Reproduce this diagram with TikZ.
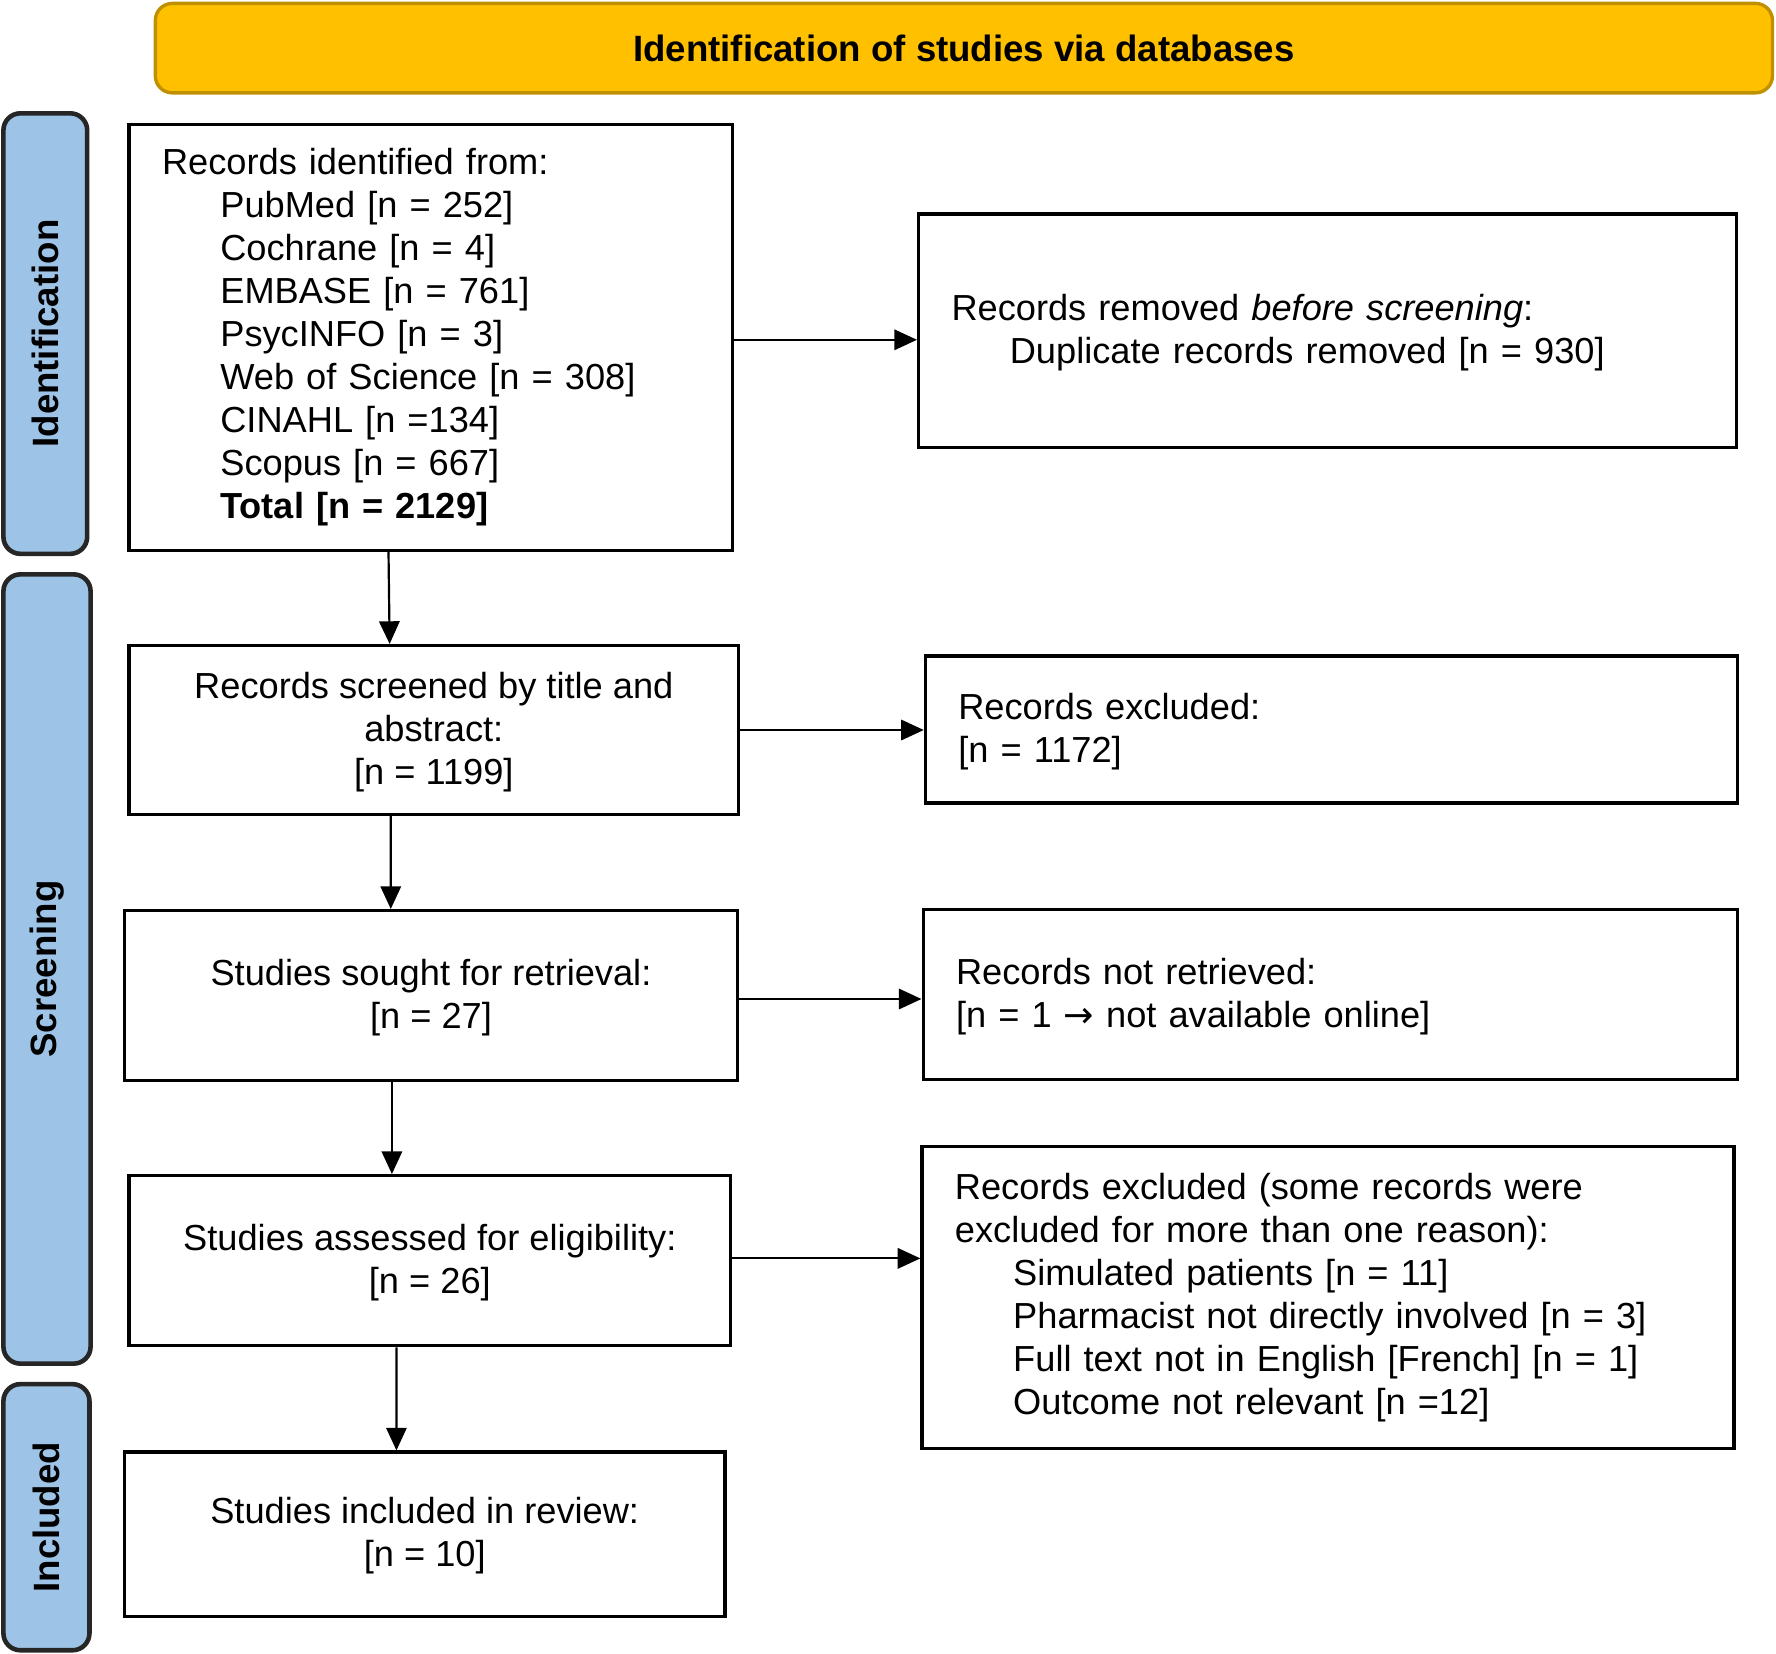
\documentclass[tikz,border=0pt]{standalone}
\usepackage{fontspec}
\setmainfont{Liberation Sans}
\newfontfamily\arrowfont{DejaVu Sans}
\usetikzlibrary{arrows.meta}
\definecolor{headyellow}{HTML}{FFC000}
\definecolor{headborder}{HTML}{BF9000}
\definecolor{phaseblue}{HTML}{9DC3E6}
\newcommand{\ind}{\hspace*{1.03cm}}

\begin{document}
\begin{tikzpicture}[x=0.02cm,y=-0.02cm,
  font=\fontsize{18.2pt}{21.6pt}\selectfont,
  box/.style={draw,line width=1.7pt,inner xsep=0.58cm,inner ysep=0pt},
  lbox/.style={box,align=left},
  cbox/.style={box,align=center},
  header/.style={draw=headborder,fill=headyellow,line width=1.7pt,rounded corners=0.3cm,font=\fontsize{18.4pt}{21.6pt}\selectfont\bfseries},
  phase/.style={draw=black!85,fill=phaseblue,line width=2.3pt,rounded corners=0.3cm,rotate=90,font=\fontsize{18.4pt}{21.6pt}\selectfont\bfseries},
  arr/.style={-{Triangle[length=0.4cm,width=0.36cm]},line width=1.1pt}]

 \useasboundingbox (0,0) rectangle (1568,1460);

 % header and phases
 \node[header,minimum width=28.56cm,minimum height=1.58cm] (head) at (851,42.5) {Identification of studies via databases};
 \node[phase,minimum width=7.78cm,minimum height=1.48cm] (pident) at (40,294.5) {Identification};
 \node[phase,minimum width=13.94cm,minimum height=1.54cm] (pscreen) at (41.5,855.5) {Screening};
 \node[phase,minimum width=4.7cm,minimum height=1.52cm] (pinc) at (41,1339.5) {Included};

 % left column
 \node[lbox,text width=9.5cm,minimum height=7.52cm] (ident) at (380.5,298) {Records identified from:\\
   \ind PubMed [n = 252]\\
   \ind Cochrane [n = 4]\\
   \ind EMBASE [n = 761]\\
   \ind PsycINFO [n = 3]\\
   \ind Web of Science [n = 308]\\
   \ind CINAHL [n =134]\\
   \ind Scopus [n = 667]\\
   \ind \textbf{Total [n = 2129]}};
 \node[cbox,minimum width=10.76cm,minimum height=2.98cm] (screen) at (383,644.5) {\strut Records screened by title and\\ abstract:\\\relax [n = 1199]};
 \node[cbox,minimum width=10.82cm,minimum height=3cm] (sought) at (380.5,879) {\strut Studies sought for retrieval:\\\relax [n = 27]};
 \node[cbox,minimum width=10.62cm,minimum height=3cm] (assess) at (379.5,1113) {\strut Studies assessed for eligibility:\\\relax [n = 26]};
 \node[cbox,minimum width=10.6cm,minimum height=2.9cm] (incl) at (375,1354.5) {\strut Studies included in review:\\\relax [n = 10]};

 % right column
 \node[lbox,text width=13.28cm,minimum height=4.12cm] (removed) at (1172,292) {\strut Records removed \textit{before screening}:\\
   \ind Duplicate records removed [n = 930]};
 \node[lbox,text width=13.18cm,minimum height=2.6cm] (excl) at (1175.5,644) {\strut Records excluded:\\\relax [n = 1172]};
 \node[lbox,text width=13.22cm,minimum height=3cm] (notret) at (1174.5,878) {\strut Records not retrieved:\\\relax [n = 1 {\arrowfont →} not available online]};
 \node[lbox,text width=13.18cm,minimum height=5.34cm] (excl2) at (1172.5,1145.5) {Records excluded (some records were\\ excluded for more than one reason):\\
   \ind Simulated patients [n = 11]\\
   \ind Pharmacist not directly involved [n = 3]\\
   \ind Full text not in English [French] [n = 1]\\
   \ind Outcome not relevant [n =12]\\[0.2cm]};

 % arrows
 \draw[arr] ([xshift=-0.75cm]ident.south) -- ([xshift=-0.78cm]screen.north);
 \draw[arr] ([xshift=-0.76cm]screen.south) -- ([xshift=-0.71cm]sought.north);
 \draw[arr] ([xshift=-0.69cm]sought.south) -- ([xshift=-0.67cm]assess.north);
 \draw[arr] ([xshift=-0.59cm]assess.south) -- ([xshift=-0.5cm]incl.north);
 \draw[arr] ([yshift=-0.04cm]ident.east) -- ([yshift=-0.04cm]ident.east -| removed.west);
 \draw[arr] (screen.east) -- (screen.east -| excl.west);
 \draw[arr] ([yshift=-0.06cm]sought.east) -- ([yshift=-0.06cm]sought.east -| notret.west);
 \draw[arr] ([yshift=0.04cm]assess.east) -- ([yshift=0.04cm]assess.east -| excl2.west);
\end{tikzpicture}
\end{document}
